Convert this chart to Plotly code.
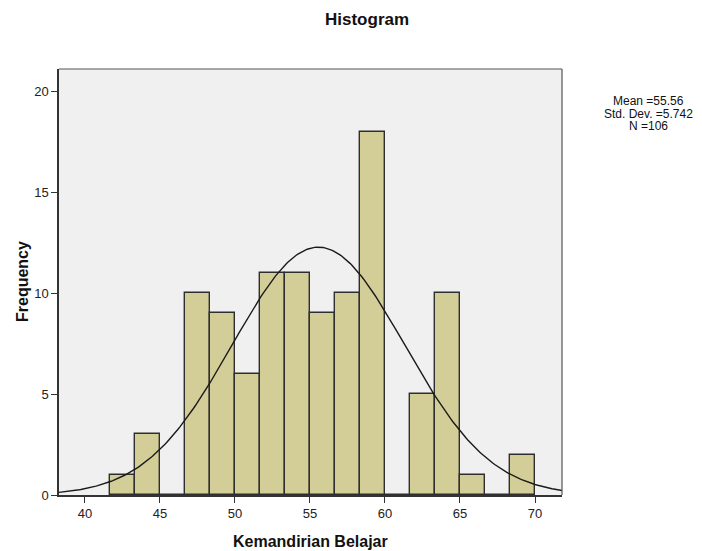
import numpy as np
import plotly.graph_objects as go

bin_start = 41.6667
bin_width = 5 / 3
counts = [1, 3, 0, 10, 9, 6, 11, 11, 9, 10, 18, 0, 5, 10, 1, 0, 2]
mean = 55.56
std = 5.742
n = 106
x_ticks = [40, 45, 50, 55, 60, 65, 70]
y_ticks = [0, 5, 10, 15, 20]
stats_lines = [f"Mean ={mean}", f"Std. Dev. ={std}", f"N ={n}"]

centers = [bin_start + bin_width * (i + 0.5) for i in range(len(counts))]

xs = np.linspace(38.27, 71.8, 300)
ys = n * bin_width / (std * np.sqrt(2 * np.pi)) * np.exp(-0.5 * ((xs - mean) / std) ** 2)

fig = go.Figure()
fig.add_trace(go.Bar(x=centers, y=counts, width=bin_width,
                     marker=dict(color="#D3CE97", line=dict(color="#2e2e2e", width=1.4)),
                     showlegend=False))
fig.add_trace(go.Scatter(x=xs, y=ys, mode="lines", line=dict(color="#1a1a1a", width=1.4),
                         showlegend=False))

fig.update_layout(
    width=694, height=543,
    margin=dict(l=51, r=140, t=61, b=56),
    paper_bgcolor="white", plot_bgcolor="#F0F0F0",
    font=dict(family="Liberation Sans, Arial", color="#222222"),
    bargap=0,
)
fig.update_xaxes(range=[38.27, 71.8], tickvals=x_ticks, ticks="outside", ticklen=6,
                 tickcolor="#333", showgrid=False, zeroline=False,
                 showline=True, linecolor="#333", linewidth=1.5, mirror=False,
                 tickfont=dict(size=13, color="#222"))
fig.update_yaxes(range=[0, 21.1], tickvals=y_ticks, ticks="outside", ticklen=6,
                 tickcolor="#333", showgrid=False, zeroline=False,
                 showline=True, linecolor="#333", linewidth=1.5,
                 tickfont=dict(size=13, color="#222"))
# top and right frame
fig.add_shape(type="line", xref="paper", yref="paper", x0=0, x1=1, y0=1, y1=1,
              line=dict(color="#555", width=1.2))
fig.add_shape(type="line", xref="paper", yref="paper", x0=1, x1=1, y0=0, y1=1,
              line=dict(color="#555", width=1.2))

fig.add_annotation(text="<b>Histogram</b>", xref="paper", yref="paper",
                   x=0.612, y=1, yshift=50, showarrow=False, yanchor="middle",
                   font=dict(size=17, color="#111"))
fig.add_annotation(text="<b>Kemandirian Belajar</b>", xref="paper", yref="paper",
                   x=0.5, y=0, yshift=-46, showarrow=False, yanchor="middle",
                   font=dict(size=16, color="#111"))
fig.add_annotation(text="<b>Frequency</b>", xref="paper", yref="paper",
                   x=0, xshift=-37, y=0.5, showarrow=False, textangle=-90,
                   xanchor="center", font=dict(size=16, color="#111"))
for i, line in enumerate(stats_lines):
    fig.add_annotation(text=line, xref="paper", yref="paper", x=1, xshift=86,
                       y=1, yshift=-32 - 12.5 * i, showarrow=False,
                       xanchor="center", yanchor="middle",
                       font=dict(size=12, color="#111"))

fig.write_html("out.html")
